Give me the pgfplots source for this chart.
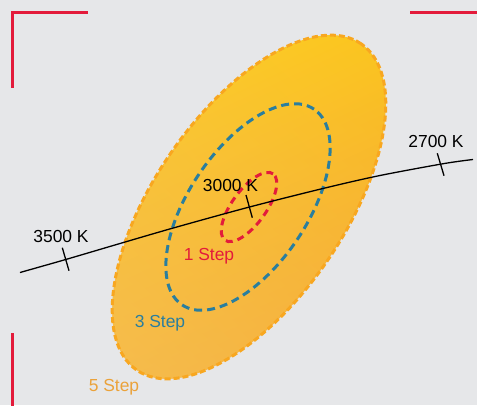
\documentclass[border=0pt]{standalone}
\usepackage{pgfplots}
\pgfplotsset{compat=1.18}
\usetikzlibrary{fadings}
\usepackage{fontspec}
\setmainfont{Liberation Sans}
\definecolor{bg}{HTML}{E6E7E9}
\definecolor{yel}{HTML}{FED31A}
\definecolor{ora}{HTML}{F5A02C}
\definecolor{pale}{HTML}{F5C460}
\definecolor{oraline}{HTML}{F8A720}
\definecolor{oratext}{HTML}{EBA23A}
\definecolor{tealc}{HTML}{2A7E9E}
\definecolor{redc}{HTML}{E31B3B}
\tikzfading[name=llfade, left color=transparent!35, right color=transparent!100]
\tikzset{lab/.style={font=\fontsize{17.5}{20}\selectfont, inner sep=0pt, anchor=base}}
\begin{document}
\begin{tikzpicture}
\begin{axis}[x=1bp,y=1bp,xmin=0,xmax=477,ymin=0,ymax=405,hide axis,scale only axis]
\fill[bg] (axis cs:0,0) rectangle (axis cs:477,405);
% 5 step ellipse
\begin{scope}
\clip[rotate around={55.5:(axis cs:249,198)}] (axis cs:249,198) ellipse [x radius=198bp, y radius=95bp];
\shade[top color=yel, bottom color=ora, shading angle=25] (axis cs:30,0) rectangle (axis cs:470,405);
\fill[pale, path fading=llfade, fading angle=45] (axis cs:30,0) rectangle (axis cs:470,405);
\end{scope}
\draw[oraline, line width=3bp, dash pattern=on 6bp off 3bp, rotate around={55.5:(axis cs:249,198)}] (axis cs:249,198) ellipse [x radius=198bp, y radius=95bp];
% 3 step
\draw[tealc, line width=3bp, dash pattern=on 8bp off 5bp, rotate around={56:(axis cs:248,198)}] (axis cs:248,198) ellipse [x radius=118bp, y radius=59bp];
% 1 step
\draw[redc, line width=3bp, dash pattern=on 7bp off 5bp, rotate around={54:(axis cs:249,198)}] (axis cs:249,198) ellipse [x radius=41bp, y radius=17bp];
% Planckian locus
\addplot[black, line width=1.3bp, smooth] coordinates {(20,132.5) (65.7,145.5) (120,161.5) (175,177.5) (249.5,198) (325,217) (380,229.5) (444.4,241.5) (473,245.5)};
\addplot[black, line width=1.3bp] coordinates {(62.3,157.3) (69,134.3)};
\addplot[black, line width=1.3bp] coordinates {(246,210) (252.3,187.3)};
\addplot[black, line width=1.3bp] coordinates {(437.3,251.7) (444,229.3)};
\node[lab] at (axis cs:61,162.3) {3500 K};
\node[lab] at (axis cs:230.5,213.3) {3000 K};
\node[lab] at (axis cs:436,257.3) {2700 K};
\node[lab, text=redc] at (axis cs:209,145) {1 Step};
\node[lab, text=tealc] at (axis cs:160,77.7) {3 Step};
\node[lab, text=oratext] at (axis cs:114,13.3) {5 Step};
% corner brackets
\draw[redc, line width=3bp] (axis cs:87.5,392.3) -- (axis cs:12.7,392.3) -- (axis cs:12.7,317.5);
\draw[redc, line width=3bp] (axis cs:410,392) -- (axis cs:480,392);
\draw[redc, line width=3bp] (axis cs:12.7,71.7) -- (axis cs:12.7,-5);
\end{axis}
\end{tikzpicture}
\end{document}
